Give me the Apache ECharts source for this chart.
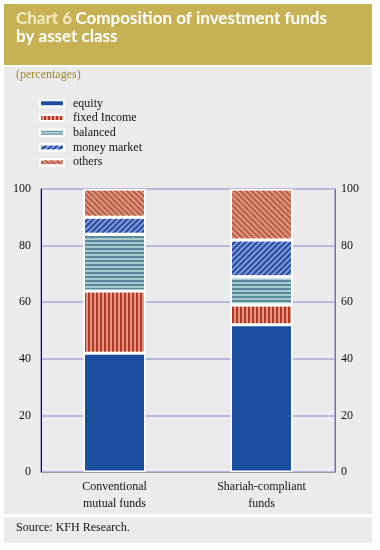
<!DOCTYPE html>
<html><head><meta charset="utf-8">
<script src="https://cdn.jsdelivr.net/npm/echarts@6/dist/echarts.min.js"></script>
<style>html,body{margin:0;padding:0;background:#fff}#c{width:380px;height:550px}</style>
</head><body><div id="c"></div>
<script>
const categories = ['Conventional\nmutual funds', 'Shariah-compliant\nfunds'];
const seriesNames = ['equity', 'fixed Income', 'balanced', 'money market', 'others'];
const equity = [42, 52];
const fixedIncome = [22, 7];
const balanced = [20, 10];
const moneyMarket = [6, 13];
const others = [10, 18];
const yTicks = [0, 20, 40, 60, 80, 100];

const serif = 'Liberation Serif';
const styles = [
  {color: '#1a4e9e', decal: null},
  {color: '#e8957f', decal: {symbol: 'rect', symbolSize: 1, dashArrayX: [2, 2], dashArrayY: [1, 0], color: '#b03a28'}},
  {color: '#a9c9d2', decal: {symbol: 'rect', symbolSize: 1, dashArrayX: [1, 0], dashArrayY: [2, 2], color: '#5a8b98'}},
  {color: '#7c9ae0', decal: {symbol: 'rect', symbolSize: 1, dashArrayX: [1, 0], dashArrayY: [2, 2], rotation: -Math.PI / 4, color: '#2c4a9a'}},
  {color: '#e4937b', decal: {symbol: 'rect', symbolSize: 1, dashArrayX: [1, 0], dashArrayY: [2, 2], rotation: Math.PI / 4, color: '#b0604c'}}
];
const dataArr = [equity, fixedIncome, balanced, moneyMarket, others];

const chart = echarts.init(document.getElementById('c'), null, {renderer: 'canvas'});
chart.setOption({
  animation: false,
  backgroundColor: '#ffffff',
  textStyle: {fontFamily: serif},
  graphic: [
    {type: 'rect', shape: {x: 4, y: 4, width: 368, height: 61}, style: {fill: '#c6b254'}, z: -10},
    {type: 'rect', shape: {x: 4, y: 67, width: 368, height: 447}, style: {fill: '#ebebeb'}, z: -10},
    {type: 'rect', shape: {x: 4, y: 517, width: 368, height: 26}, style: {fill: '#ebebeb'}, z: -10},
    {type: 'text', left: 16, top: 10, style: {
      text: '{a|Chart 6} {b|Composition of investment funds}\n{b|by asset class}',
      rich: {
        a: {fontFamily: 'Lato', fontWeight: 'bold', fontSize: 17, fill: '#f3ecc4', lineHeight: 18},
        b: {fontFamily: 'Lato', fontWeight: 'bold', fontSize: 17, fill: '#ffffff', lineHeight: 18}
      }
    }},
    {type: 'text', left: 16, top: 69, style: {text: '(percentages)', fontFamily: serif, fontSize: 12, fill: '#9c8530'}},
    {type: 'text', left: 16, top: 522, style: {text: 'Source: KFH Research.', fontFamily: serif, fontSize: 12, fill: '#111'}}
  ],
  legend: {
    orient: 'vertical', left: 39, top: 97, itemWidth: 24, itemHeight: 6, itemGap: 2,
    padding: 0,
    data: seriesNames,
    textStyle: {fontFamily: serif, fontSize: 12, color: '#111', lineHeight: 12.7, padding: [0, 0, 0, 4]},
    icon: 'rect'
  },
  grid: {left: 41, right: 45, top: 189, bottom: 78},
  xAxis: {
    type: 'category', data: categories,
    axisLine: {lineStyle: {color: '#999', width: 1}},
    axisTick: {show: false},
    splitLine: {show: true, interval: (idx) => idx === 1, lineStyle: {color: '#a9a9da', width: 2}},
    axisLabel: {fontFamily: serif, fontSize: 12, color: '#111', lineHeight: 17, margin: 6}
  },
  yAxis: [
    {type: 'value', min: 0, max: 100, interval: 20, position: 'left',
     axisLine: {show: true, lineStyle: {color: '#111'}}, axisTick: {show: false},
     splitLine: {lineStyle: {color: '#a9a9da', width: 1.5}},
     axisLabel: {fontFamily: serif, fontSize: 12, color: '#111', margin: 10}},
    {type: 'value', min: 0, max: 100, interval: 20, position: 'right',
     axisLine: {show: true, lineStyle: {color: '#777'}}, axisTick: {show: false},
     splitLine: {show: false},
     axisLabel: {fontFamily: serif, fontSize: 12, color: '#111', margin: 6}}
  ],
  series: seriesNames.map((n, i) => ({
    name: n, type: 'bar', stack: 'total', barWidth: 62, data: dataArr[i],
    itemStyle: Object.assign({color: styles[i].color, borderColor: '#ffffff', borderWidth: 1.5},
      styles[i].decal ? {decal: styles[i].decal} : {})
  }))
});
</script></body></html>
